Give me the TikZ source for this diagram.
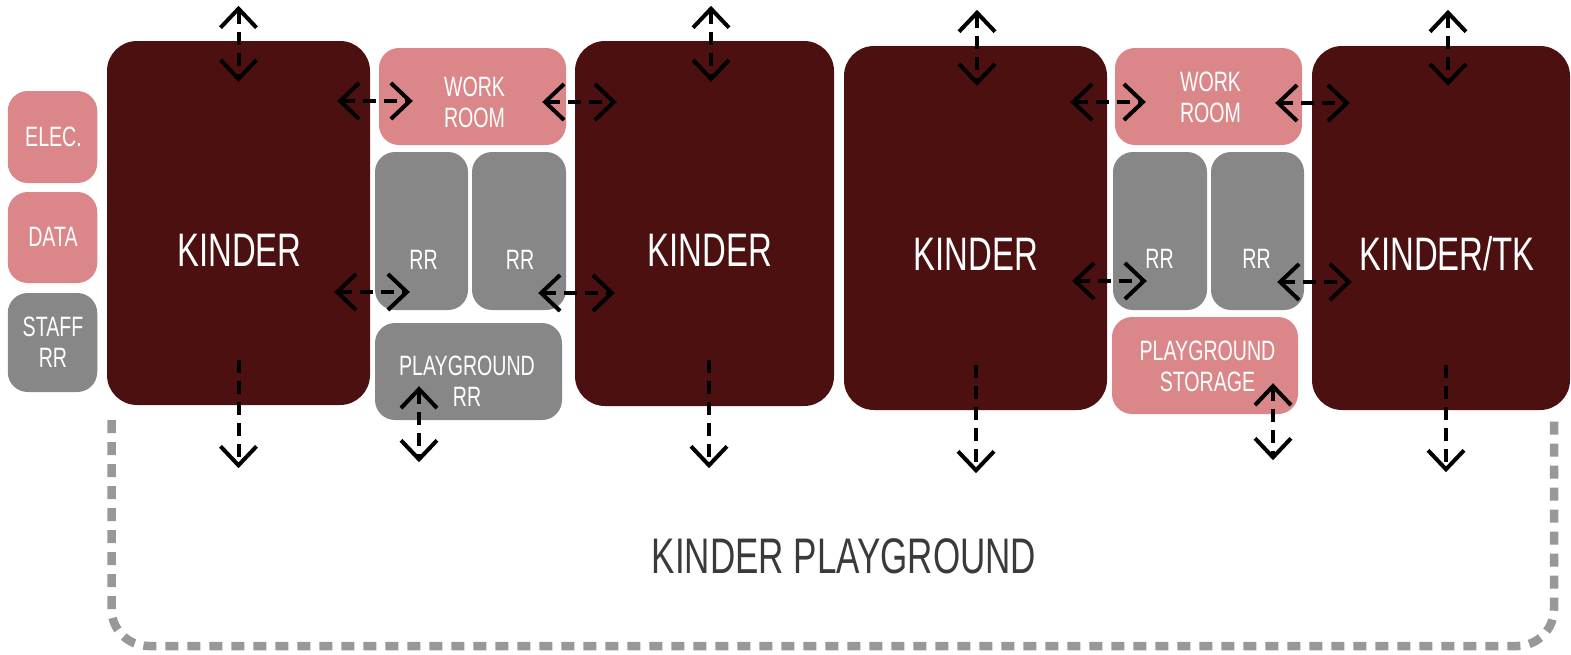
\documentclass[tikz,border=0pt]{standalone}
\usepackage{fontspec}
\setmainfont{Liberation Sans}[FakeStretch=0.7]
\usepackage{tikz}
\usetikzlibrary{arrows.meta,calc}

\definecolor{kindercol}{RGB}{77,16,17}
\definecolor{pinkcol}{RGB}{219,134,137}
\definecolor{greycol}{RGB}{135,135,135}
\definecolor{yardcol}{RGB}{152,152,155}
\definecolor{yardtext}{RGB}{58,58,58}

\begin{document}
\begin{tikzpicture}[x=1pt,y=-1pt,
  room/.style={inner sep=0pt,rounded corners=20pt},
  bigroom/.style={inner sep=0pt,rounded corners=30pt,fill=kindercol},
  lbl/.style={inner sep=0pt,text=white,align=center,font=\fontsize{28}{31}\selectfont},
  biglbl/.style={lbl,font=\fontsize{47}{50}\selectfont},
  door/.style={draw=black,line width=4pt,dash pattern=on 13pt off 8pt,>={Straight Barb[length=19pt,width=36pt,line width=4pt]}},
  yard/.style={draw=yardcol,line width=8.5pt,dash pattern=on 13pt off 9pt,rounded corners=37pt}]
\useasboundingbox (0,0) rectangle (1571,654);

%Playground boundary
\draw[yard] (111.5,420) -- (111.5,646) -- (1554,646) -- (1554,420);

%Shape: small rooms on the left
\node[room,fill=pinkcol,minimum width=89.5pt,minimum height=92pt] (elec) at (52.5,137) {};
\node[room,fill=pinkcol,minimum width=89.5pt,minimum height=91pt] (data) at (52.5,237.5) {};
\node[room,fill=greycol,minimum width=89.5pt,minimum height=99pt] (staff) at (52.5,342.5) {};

%Shape: first wing
\node[bigroom,minimum width=263pt,minimum height=364pt] (k1) at (238.5,223) {};
\node[room,fill=pinkcol,minimum width=187pt,minimum height=97pt] (wr1) at (472.5,96.5) {};
\node[room,fill=greycol,minimum width=93pt,minimum height=158pt] (rra) at (421.5,231) {};
\node[room,fill=greycol,minimum width=94pt,minimum height=158pt] (rrb) at (519,231) {};
\node[room,fill=greycol,minimum width=187pt,minimum height=97pt] (prr) at (468.5,371.5) {};
\node[bigroom,minimum width=259pt,minimum height=365pt] (k2) at (704.5,223.5) {};

%Shape: second wing
\node[bigroom,minimum width=263pt,minimum height=364pt] (k3) at (975.5,228) {};
\node[room,fill=pinkcol,minimum width=187pt,minimum height=97pt] (wr2) at (1208.5,96.5) {};
\node[room,fill=greycol,minimum width=94pt,minimum height=158pt] (rrc) at (1160,231) {};
\node[room,fill=greycol,minimum width=93pt,minimum height=158pt] (rrd) at (1257.5,231) {};
\node[room,fill=pinkcol,minimum width=186pt,minimum height=97pt] (pst) at (1205,365.5) {};
\node[bigroom,minimum width=258pt,minimum height=364pt] (k4) at (1441,228) {};

% Text Node
\node[lbl] (lelec) at (53.5,137) {ELEC.};
\node[lbl] (ldata) at (53,237) {DATA};
\node[lbl] (lstaff) at (53,342) {STAFF\\RR};
\node[biglbl] (lk1) at (239.5,250) {KINDER};
\node[lbl] (lwr1) at (474.5,102.5) {WORK\\ROOM};
\node[lbl] (lrra) at (423.5,260) {RR};
\node[lbl] (lrrb) at (520,260) {RR};
\node[lbl] (lprr) at (467,381) {PLAYGROUND\\RR};
\node[biglbl] (lk2) at (710,250) {KINDER};
\node[biglbl] (lk3) at (976,254) {KINDER};
\node[lbl] (lwr2) at (1210.5,97) {WORK\\ROOM};
\node[lbl] (lrrc) at (1159.5,258.5) {RR};
\node[lbl] (lrrd) at (1256.5,258.5) {RR};
\node[lbl] (lpst) at (1207.5,366) {PLAYGROUND\\STORAGE};
\node[biglbl] (lk4) at (1447,254) {KINDER/TK};
\node[inner sep=0pt,text=yardtext,font=\fontsize{50}{54}\selectfont] (lyard) at (844,556) {KINDER PLAYGROUND};

%Doors: up and down
\draw[door,<->] ($(k1.north)+(0,-35)$) -- ($(k1.north)+(0,41)$);
\draw[door,->] ($(k1.south)+(0,-45)$) -- ($(k1.south)+(0,63)$);
\draw[door,<->] ($(k2.north)+(6.5,-35)$) -- ($(k2.north)+(6.5,41)$);
\draw[door,->] ($(k2.south)+(4.5,-46)$) -- ($(k2.south)+(4.5,62)$);
\draw[door,<->] ($(k3.north)+(1.5,-36)$) -- ($(k3.north)+(1.5,40)$);
\draw[door,->] ($(k3.south)+(0.5,-45)$) -- ($(k3.south)+(0.5,63)$);
\draw[door,<->] ($(k4.north)+(7,-36)$) -- ($(k4.north)+(7,40)$);
\draw[door,->] ($(k4.south)+(5,-45)$) -- ($(k4.south)+(5,62)$);
\draw[door,<->] ($(prr.south)+(-49.5,-34)$) -- ($(prr.south)+(-49.5,42)$);
\draw[door,<->] ($(pst.south)+(68,-31)$) -- ($(pst.south)+(68,46)$);

%Doors: side to side
\draw[door,<->] ($(k1.east|-wr1.west)+(-33,4.5)$) -- ($(wr1.west)+(34,4.5)$);
\draw[door,<->] ($(k1.east|-rra.west)+(-36,61)$) -- ($(rra.west)+(35,61)$);
\draw[door,<->] ($(wr1.east)+(-24,5.5)$) -- ($(k2.west|-wr1.east)+(42,5.5)$);
\draw[door,<->] ($(rrb.east)+(-28,62)$) -- ($(k2.west|-rrb.east)+(40,62)$);
\draw[door,<->] ($(k3.east|-wr2.west)+(-37,5.5)$) -- ($(wr2.west)+(31,5.5)$);
\draw[door,<->] ($(k3.east|-rrc.west)+(-35,50)$) -- ($(rrc.west)+(34,50)$);
\draw[door,<->] ($(wr2.east)+(-27,6.5)$) -- ($(k4.west|-wr2.east)+(38,6.5)$);
\draw[door,<->] ($(rrd.east)+(-27,51)$) -- ($(k4.west|-rrd.east)+(40,51)$);

\end{tikzpicture}
\end{document}
